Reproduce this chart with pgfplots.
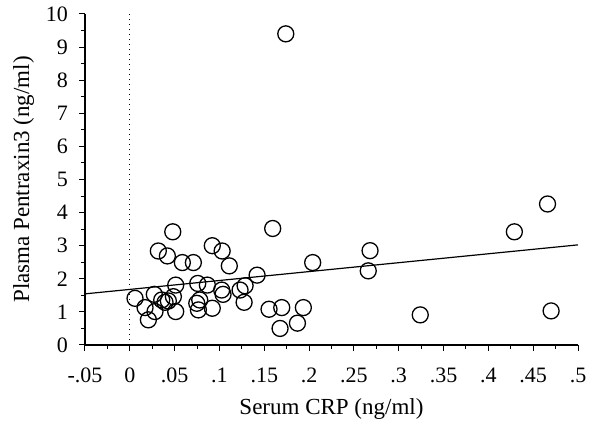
\documentclass[border=0pt]{standalone}
\usepackage{pgfplots}
\pgfplotsset{compat=1.18}
\usepackage{fontspec}
\setmainfont{Liberation Serif}
\begin{document}
\begin{tikzpicture}
\useasboundingbox (-42.5pt,-38.5pt) rectangle (257.5pt,172.5pt);
\begin{axis}[
  at={(0,0)}, anchor=south west,
  scale only axis, width=246.5pt, height=165.5pt,
  xmin=-0.05, xmax=0.5, ymin=0, ymax=10,
  axis lines=left, axis line style={-, line width=0.6pt},
  xtick={-0.05,0,0.05,0.1,0.15,0.2,0.25,0.3,0.35,0.4,0.45,0.5},
  xticklabels={-.05,0,.05,.1,.15,.2,.25,.3,.35,.4,.45,.5},
  ytick={0,1,...,10},
  minor x tick num=1, minor y tick num=1,
  tick align=outside, tick style={black, line width=0.5pt},
  major tick length=3pt, minor tick length=2pt,
  /pgf/number format/assume math mode=true,
  tick label style={font=\fontsize{11}{12}\selectfont},
  xticklabel style={yshift=-5pt},
  yticklabel style={xshift=-2pt},
  xlabel={Serum CRP (ng/ml)}, ylabel={Plasma Pentraxin3 (ng/ml)},
  label style={font=\fontsize{11.5}{13}\selectfont},
  xlabel style={yshift=-1pt},
  ylabel style={yshift=-1pt},
  clip=false,
]
\addplot[black, dotted, line width=0.5pt] coordinates {(0,0) (0,10)};
\addplot[black, line width=0.6pt] coordinates {(-0.05,1.545) (0.5,3.025)};
\addplot[only marks, mark=o, mark size=4pt, mark options={line width=0.65pt, black}] table {
x y
0.0058 1.41
0.017 1.13
0.0207 0.76
0.0273 1.53
0.0281 1.01
0.0318 2.84
0.0356 1.36
0.0393 1.29
0.043 1.33
0.0419 2.69
0.0486 1.46
0.0479 3.42
0.0512 1.81
0.0512 1.01
0.0586 2.49
0.0709 2.49
0.0747 1.26
0.0758 1.86
0.0765 1.06
0.078 1.36
0.0865 1.81
0.092 3.0
0.092 1.11
0.103 2.84
0.1025 1.66
0.104 1.53
0.111 2.39
0.123 1.66
0.1286 1.79
0.1275 1.29
0.142 2.11
0.1594 3.52
0.1553 1.08
0.1695 1.13
0.1676 0.5
0.187 0.66
0.1936 1.13
0.204 2.49
0.174 9.4
0.268 2.85
0.266 2.24
0.324 0.91
0.429 3.42
0.466 4.26
0.47 1.03
};
\end{axis}
\end{tikzpicture}
\end{document}
